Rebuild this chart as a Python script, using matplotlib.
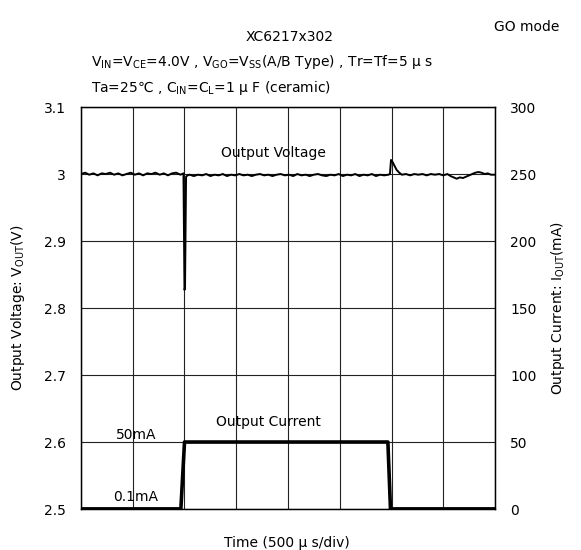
import matplotlib
matplotlib.use("Agg")
import matplotlib.pyplot as plt

plt.rcParams['font.family'] = ['DejaVu Sans', 'Noto Sans CJK JP']

# 時間 (div, 500us/div) と出力電圧 (mV)
t_v = [0, 0.08, 0.16, 0.24, 0.32, 0.4, 0.48, 0.56, 0.64, 0.72, 0.8, 0.88, 0.96,
       1.04, 1.12, 1.2, 1.28, 1.36, 1.44, 1.52, 1.6, 1.68, 1.76, 1.84, 1.92, 1.98,
       2.0, 2.01, 2.03, 2.06,
       2.1, 2.18, 2.26, 2.34, 2.42, 2.5, 2.58, 2.66, 2.74, 2.82, 2.9, 2.98,
       3.06, 3.14, 3.22, 3.3, 3.38, 3.46, 3.54, 3.62, 3.7, 3.78, 3.86, 3.94,
       4.02, 4.1, 4.18, 4.26, 4.34, 4.42, 4.5, 4.58, 4.66, 4.74, 4.82, 4.9,
       4.98, 5.06, 5.14, 5.22, 5.3, 5.38, 5.46, 5.54, 5.62, 5.7, 5.78, 5.86, 5.94,
       5.97, 5.99, 6.02, 6.06, 6.1, 6.15, 6.2, 6.28, 6.36, 6.44, 6.52, 6.6, 6.68,
       6.76, 6.84, 6.92, 7.0, 7.08, 7.14, 7.2, 7.26, 7.32, 7.38, 7.44, 7.5, 7.56,
       7.62, 7.68, 7.74, 7.8, 7.86, 7.92, 8.0]
v_mv = [3000, 3002, 2999, 3001, 2998, 3001, 3000, 3002, 2999, 3001, 2998, 3000, 3002,
        2999, 3001, 2998, 3001, 3000, 3002, 2999, 3001, 2998, 3001, 3002, 2999, 3001,
        2827, 2830, 2996, 2998,
        2999, 2997, 2999, 2998, 3000, 2997, 2999, 2998, 3000, 2997, 2999, 2998,
        3000, 2998, 2999, 2997, 2999, 3000, 2998, 2999, 2997, 2999, 3000, 2998,
        2999, 2997, 3000, 2998, 2999, 2997, 2999, 3000, 2998, 2997, 2999, 2998,
        3000, 2997, 2999, 2998, 3000, 2997, 2999, 2998, 3000, 2997, 2999, 2998, 2999,
        3000, 3021, 3018, 3012, 3006, 3002, 2999, 3000, 2998, 3000, 2999, 3000, 2998,
        3000, 2999, 3000, 2998, 3000, 2997, 2995, 2993, 2995, 2994, 2996, 2998, 3000,
        3002, 3003, 3002, 3000, 3001, 2999, 2999]

# 出力電流 (mA)
t_i = [0, 1.93, 2.0, 5.93, 5.98, 8.0]
i_ma = [0.1, 0.1, 50, 50, 0.1, 0.1]

v_ticks = [2.5, 2.6, 2.7, 2.8, 2.9, 3.0, 3.1]
v_labels = ['2.5', '2.6', '2.7', '2.8', '2.9', '3', '3.1']
i_ticks = [0, 50, 100, 150, 200, 250, 300]

fig = plt.figure(figsize=(5.81, 5.50), dpi=100)
ax = fig.add_axes([0.1394, 0.0745, 0.7126, 0.7309])

ax.plot(t_v, [v / 1000 for v in v_mv], color='black', linewidth=1.4)
ax.set_xlim(0, 8)
ax.set_ylim(2.5, 3.1)
ax.set_xticks(range(0, 9))
ax.set_xticklabels([])
ax.set_yticks(v_ticks)
ax.set_yticklabels(v_labels, fontsize=10)
ax.tick_params(length=0, pad=11)
ax.grid(True, color='#222222', linewidth=0.8)
for s in ax.spines.values():
    s.set_linewidth(1.0)

ax2 = ax.twinx()
ax2.plot(t_i, i_ma, color='black', linewidth=2.6)
ax2.set_ylim(0, 300)
ax2.set_yticks(i_ticks)
ax2.set_yticklabels([str(v) for v in i_ticks], fontsize=10)
ax2.tick_params(length=0, pad=11)

ax.text(3.71, 3.031, 'Output Voltage', fontsize=10, ha='center', va='center')
ax.text(3.62, 2.630, 'Output Current', fontsize=10, ha='center', va='center')
ax.text(1.06, 2.610, '50mA', fontsize=10, ha='center', va='center')
ax.text(1.06, 2.518, '0.1mA', fontsize=10, ha='center', va='center')

fig.text(0.494, 0.0127, 'Time (500 μ s/div)', fontsize=10, ha='center', va='center')
fig.text(0.031, 0.44, 'Output Voltage: V$_{\\rm OUT}$(V)', fontsize=10,
         rotation=90, ha='center', va='center')
fig.text(0.960, 0.44, 'Output Current: I$_{\\rm OUT}$(mA)', fontsize=10,
         rotation=90, ha='center', va='center')

fig.text(0.499, 0.933, 'XC6217x302', fontsize=10, ha='center', va='center')
fig.text(0.157, 0.887, 'V$_{\\rm IN}$=V$_{\\rm CE}$=4.0V , V$_{\\rm GO}$=V$_{\\rm SS}$(A/B Type) , Tr=Tf=5 μ s',
         fontsize=10, ha='left', va='center')
fig.text(0.157, 0.84, 'Ta=25℃ , C$_{\\rm IN}$=C$_{\\rm L}$=1 μ F (ceramic)',
         fontsize=10, ha='left', va='center')
fig.text(0.907, 0.951, 'GO mode', fontsize=10, ha='center', va='center')

fig.savefig('out.png', dpi=100)
